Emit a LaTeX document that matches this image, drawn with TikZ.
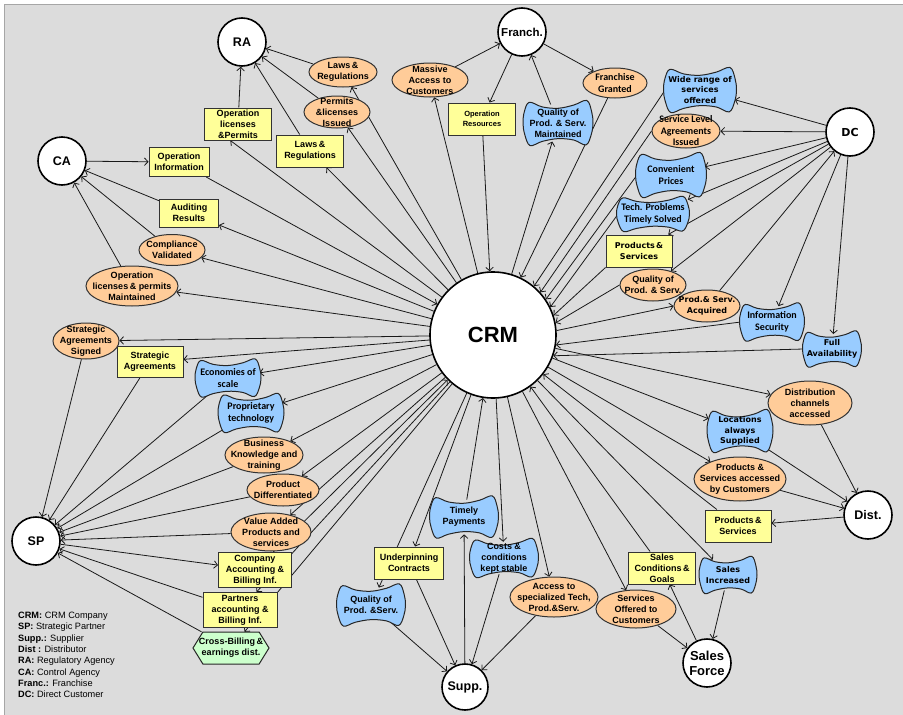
\documentclass[tikz,border=0pt]{standalone}
\usepackage{fontspec}
\setmainfont{Liberation Sans}
\newfontfamily\dvfont{DejaVu Sans}
\newfontfamily\clfont{Carlito}
\usetikzlibrary{arrows.meta,shapes.geometric}

\definecolor{bgc}{RGB}{220,220,220}
\definecolor{boxc}{RGB}{255,255,153}
\definecolor{ovalc}{RGB}{255,204,153}
\definecolor{wavec}{RGB}{153,204,255}
\definecolor{hexc}{RGB}{204,255,204}
\definecolor{edgec}{RGB}{25,25,25}

\pgfdeclarelayer{canvas}
\pgfdeclarelayer{wires}
\pgfsetlayers{canvas,wires,main}

\tikzset{
  af/.style={font=\bfseries\fontsize{9}{11}\selectfont},
  afs/.style={font=\bfseries\fontsize{7.5}{10}\selectfont},
  df/.style={font=\dvfont\bfseries\fontsize{8}{10.6}\selectfont},
  cf/.style={font=\clfont\bfseries\fontsize{10}{11.5}\selectfont},
  hub/.style={circle, draw=black, line width=1.6pt, fill=white, inner sep=0pt,
    align=center, font=\bfseries\fontsize{12.5}{14}\selectfont},
  ybox/.style={rectangle, draw=black!80, line width=1pt, fill=boxc, align=center,
    inner sep=1pt, af},
  oval/.style={ellipse, draw=black!80, line width=1pt, fill=ovalc, inner sep=0pt},
  ovaltext/.style={align=center, inner sep=0pt, af},
  waveline/.style={fill=wavec, draw=black!85, line width=1pt},
  hexline/.style={fill=hexc, draw=black!85, line width=1pt},
  wavetext/.style={rectangle, inner sep=0pt, align=center, af},
  link/.style={draw=edgec, line width=0.8pt,
    -{Straight Barb[length=3.5pt,width=7.5pt]}},
}

% pinched pillow shape with an invisible text node on top
% #1 name, #2 x, #3 y, #4 width, #5 height, #6 font style, #7 text
\newcommand\wavenode[7]{%
  \begin{scope}[shift={(#2,#3)},x=#4*0.5pt,y=-#5*0.5pt]
    \path[waveline] plot[smooth cycle, tension=0.6] coordinates {
      (-0.82,-0.9) (-0.45,-0.7) (0,-0.64) (0.45,-0.78) (0.82,-0.98)
      (0.96,-0.5) (1,0) (0.95,0.5)
      (0.8,0.95) (0.45,0.74) (0,0.68) (-0.45,0.8) (-0.8,0.98)
      (-0.95,0.5) (-1,0) (-0.96,-0.5)};
  \end{scope}
  \node[wavetext,#6,minimum width=#4*0.95pt,minimum height=#5*0.8pt] (#1) at (#2,#3) {#7};}

% elongated hexagon, points left and right
% #1 name, #2 x, #3 y, #4 width, #5 height, #6 font style, #7 text
\newcommand\hexnode[7]{%
  \begin{scope}[shift={(#2,#3)},x=#4*0.5pt,y=-#5*0.5pt]
    \path[hexline] (-1,0) -- (-0.74,-1) -- (0.74,-1) -- (1,0) -- (0.74,1) -- (-0.74,1) -- cycle;
  \end{scope}
  \node[wavetext,#6,minimum width=#4pt,minimum height=#5pt] (#1) at (#2,#3) {#7};}

\begin{document}
\begin{tikzpicture}[x=1pt,y=-1pt]
\useasboundingbox (0,0) rectangle (903,715);
\begin{pgfonlayer}{canvas}
  \fill[white] (0,0) rectangle (903,715);
  \fill[bgc] (4,4) rectangle (903,715);
  \draw[black!35, line width=0.8pt] (4,715) -- (4,4) -- (903,4);
\end{pgfonlayer}

% ---------- actors ----------
\node[hub, minimum size=126pt, font=\bfseries\fontsize{22}{24}\selectfont] (crm) at (493,335) {CRM};
\node[hub, minimum size=48pt] (ra) at (242,42) {RA};
\node[hub, minimum size=48pt] (ca) at (62,161) {CA};
\node[hub, minimum size=48pt, font=\bfseries\fontsize{11.5}{13}\selectfont] (fr) at (522,32) {Franch.};
\node[hub, minimum size=48pt, font=\dvfont\bfseries\fontsize{11}{13}\selectfont] (dc) at (850,132) {DC};
\node[hub, minimum size=48pt] (sp) at (36,541) {SP};
\node[hub, minimum size=46pt] (su) at (465,687) {Supp.};
\node[hub, minimum size=48pt] (di) at (868,515) {Dist.};
\node[hub, minimum size=48pt, font=\bfseries\fontsize{13}{15}\selectfont] (sf) at (707,663) {Sales\\Force};

% ---------- rectangles ----------
\node[ybox, minimum width=67pt, minimum height=32pt] (oplic) at (238,124) {Operation\\licenses\\\&Permits};
\node[ybox, minimum width=60pt, minimum height=29pt] (opinfo) at (179,162) {Operation\\Information};
\node[ybox, minimum width=59pt, minimum height=28pt] (audit) at (189,213) {Auditing\\Results};
\node[ybox, minimum width=67pt, minimum height=32pt] (lawsbox) at (310,151) {Laws\,\&\\Regulations};
\node[ybox, afs, minimum width=67pt, minimum height=32pt] (opres) at (482,119) {Operation\\Resources};
\node[ybox, df, minimum width=66pt, minimum height=32pt] (ps1) at (639,251) {Products\,\&\\Services};
\node[ybox, minimum width=66pt, minimum height=32pt] (ps2) at (738,526) {Products\,\&\\Services};
\node[ybox, minimum width=67pt, minimum height=32pt] (salescond) at (662,568) {Sales\\Conditions\,\&\\Goals};
\node[ybox, minimum width=69pt, minimum height=32pt] (underp) at (409,563) {Underpinning\\Contracts};
\node[ybox, minimum width=66pt, minimum height=31pt] (stratagr) at (150,362) {Strategic\\Agreements};
\node[ybox, minimum width=73pt, minimum height=35pt] (compacc) at (255,570) {Company\\Accounting \&\\Billing Inf.};
\node[ybox, minimum width=74pt, minimum height=35pt] (partacc) at (240,610) {Partners\\accounting \&\\Billing Inf.};

% ---------- ellipses ----------
\node[oval, minimum width=66pt, minimum height=31pt, label={[ovaltext]center:{Compliance\\Validated}}] (compl) at (172,250) {};
\node[oval, minimum width=92pt, minimum height=40pt, label={[ovaltext]center:{Operation\\licenses\,\& permits\\Maintained}}] (oplicm) at (132,286) {};
\node[oval, minimum width=68pt, minimum height=30pt, label={[ovaltext]center:{Laws\,\&\\Regulations}}] (lawsov) at (343,72) {};
\node[oval, minimum width=66pt, minimum height=32pt, label={[ovaltext]center:{Permits\\\&licenses\\Issued}}] (permits) at (337,112) {};
\node[oval, minimum width=76pt, minimum height=34pt, label={[ovaltext]center:{Massive\\Access to\\Customers}}] (massive) at (430,80) {};
\node[oval, minimum width=64pt, minimum height=30pt, label={[ovaltext,cf]center:{Franchise\\Granted}}] (frgranted) at (615,83) {};
\node[oval, minimum width=68pt, minimum height=34pt, label={[ovaltext,cf]center:{Service Level\\Agreements\\Issued}}] (sla) at (686,131) {};
\node[oval, minimum width=66pt, minimum height=32pt, label={[ovaltext]center:{Quality of\\Prod. \& Serv.}}] (qualps) at (653,285) {};
\node[oval, minimum width=66pt, minimum height=32pt, label={[ovaltext,df]center:{Prod.\& Serv.\\Acquired}}] (acquired) at (707,306) {};
\node[oval, minimum width=84pt, minimum height=44pt, label={[ovaltext]center:{Distribution\\channels\\accessed}}] (distch) at (810,403) {};
\node[oval, minimum width=92pt, minimum height=44pt, label={[ovaltext]center:{Products \&\\Services accessed\\by Customers}}] (psacc) at (740,479) {};
\node[oval, minimum width=80pt, minimum height=38pt, label={[ovaltext]center:{Services\\Offered to\\Customers}}] (servoff) at (636,609) {};
\node[oval, minimum width=88pt, minimum height=40pt, label={[ovaltext]center:{Access to\\specialized Tech,\\Prod.\&Serv.}}] (access) at (554,597) {};
\node[oval, minimum width=66pt, minimum height=36pt, label={[ovaltext]center:{Strategic\\Agreements\\Signed}}] (stratsig) at (86,341) {};
\node[oval, minimum width=78pt, minimum height=36pt, label={[ovaltext]center:{Business\\Knowledge and\\training}}] (bizknow) at (264,455) {};
\node[oval, minimum width=72pt, minimum height=32pt, label={[ovaltext]center:{Product\\Differentiated}}] (proddiff) at (283,490) {};
\node[oval, minimum width=80pt, minimum height=38pt, label={[ovaltext]center:{Value Added\\Products and\\services}}] (valadd) at (271,532) {};

% ---------- pillow shapes ----------
\wavenode{qualmaint}{558}{123}{70}{46}{af}{Quality of\\Prod. \& Serv.\\Maintained}
\wavenode{wide}{700}{90}{73}{46}{df}{Wide range of\\services\\offered}
\wavenode{conv}{671}{175}{71}{46}{cf}{Convenient\\Prices}
\wavenode{tech}{653}{214}{73}{36}{cf}{Tech. Problems\\Timely Solved}
\wavenode{infosec}{772}{322}{65}{39}{cf}{Information\\Security}
\wavenode{fullav}{832}{349}{59}{37}{df}{Full\\Availability}
\wavenode{locs}{740}{431}{66}{44}{df}{Locations\\always\\Supplied}
\wavenode{salesinc}{728}{575}{58}{38}{df}{Sales\\Increased}
\wavenode{timely}{464}{517}{69}{43}{af}{Timely\\Payments}
\wavenode{costs}{504}{558}{69}{40}{af}{Costs \&\\conditions\\kept stable}
\wavenode{qualps3}{371}{605}{69}{43}{af}{Quality of\\Prod. \&Serv.}
\wavenode{econ}{228}{378}{66}{39}{cf}{Economies of\\scale}
\wavenode{propr}{251}{413}{66}{40}{cf}{Proprietary\\technology}

\hexnode{crossbill}{231}{648}{76}{32}{af}{Cross-Billing\,\&\\earnings dist.}

% ---------- key ----------
\node[anchor=north west, align=left, inner sep=0pt, font=\fontsize{9.2}{11.3}\selectfont] (legend) at (18,612)
  {\textbf{CRM:} CRM Company\\\textbf{SP:} Strategic Partner\\\textbf{Supp.:} Supplier\\\textbf{Dist :} Distributor\\
   \textbf{RA:} Regulatory Agency\\\textbf{CA:} Control Agency\\\textbf{Franc.:} Franchise\\\textbf{DC:} Direct Customer};

% ---------- value flows ----------
\begin{pgfonlayer}{wires}
% regulatory agency
\draw[link] (oplic) -- (ra);
\draw[link] (crm) -- (oplic.245);
\draw[link] (lawsov.165) -- (ra.-15);
\draw[link] (crm) -- (lawsov);
\draw[link] (permits) -- (ra);
\draw[link] (crm) -- (permits);
\draw[link] (lawsbox) -- (ra);
\draw[link] (crm) -- (lawsbox);
% control agency
\draw[link] (ca) -- (opinfo);
\draw[link] (opinfo) -- (crm);
\draw[link] (audit) -- (ca);
\draw[link] (crm) -- (audit);
\draw[link] (compl) -- (ca);
\draw[link] (crm) -- (compl);
\draw[link] (oplicm) -- (ca);
\draw[link] (crm) -- (oplicm);
% franchise
\draw[link] (massive) -- (fr);
\draw[link] (crm) -- (massive);
\draw[link] (fr) -- (opres);
\draw[link] (opres) -- (crm);
\draw[link] (crm) -- (qualmaint);
\draw[link] (qualmaint) -- (fr);
\draw[link] (fr) -- (frgranted);
\draw[link] (frgranted) -- (crm);
% direct customer
\draw[link] (dc) -- (wide);
\draw[link] (wide.west) -- (crm.50);
\draw[link] (dc) -- (sla);
\draw[link] (sla.west) -- (crm.42);
\draw[link] (dc) -- (conv);
\draw[link] (conv.west) -- (crm.34);
\draw[link] (dc) -- (tech);
\draw[link] (tech.west) -- (crm.26);
\draw[link] (dc) -- (ps1);
\draw[link] (ps1.south west) -- (crm.18);
\draw[link] (dc) -- (qualps);
\draw[link] (qualps.west) -- (crm.11);
\draw[link] (crm.4) -- (acquired.west);
\draw[link] (acquired) -- (dc);
\draw[link] (dc) -- (infosec);
\draw[link] (infosec.west) -- (crm.-9);
\draw[link] (dc) -- (fullav);
\draw[link] (fullav.west) -- (crm.-19);
% distributor
\draw[link] (crm) -- (distch);
\draw[link] (distch) -- (di);
\draw[link] (crm) -- (locs);
\draw[link] (locs) -- (di);
\draw[link] (crm) -- (psacc);
\draw[link] (psacc) -- (di);
\draw[link] (di) -- (ps2);
\draw[link] (ps2) -- (crm);
% sales force
\draw[link] (crm) -- (salesinc);
\draw[link] (salesinc) -- (sf);
\draw[link] (sf) -- (salescond);
\draw[link] (salescond) -- (crm);
\draw[link] (crm) -- (servoff);
\draw[link] (servoff) -- (sf);
% supplier
\draw[link] (crm) -- (access);
\draw[link] (access) -- (su);
\draw[link] (crm) -- (costs);
\draw[link] (costs) -- (su);
\draw[link] (su) -- (timely);
\draw[link] (timely) -- (crm);
\draw[link] (crm) -- (underp);
\draw[link] (underp) -- (su);
\draw[link] (crm) -- (qualps3);
\draw[link] (qualps3) -- (su);
% strategic partner
\draw[link] (crm) -- (stratsig);
\draw[link] (stratsig) -- (sp);
\draw[link] (crm) -- (stratagr);
\draw[link] (stratagr) -- (sp);
\draw[link] (crm) -- (econ);
\draw[link] (econ) -- (sp);
\draw[link] (crm) -- (propr);
\draw[link] (propr) -- (sp);
\draw[link] (crm) -- (bizknow);
\draw[link] (bizknow) -- (sp);
\draw[link] (crm) -- (proddiff);
\draw[link] (proddiff) -- (sp);
\draw[link] (crm) -- (valadd);
\draw[link] (valadd) -- (sp);
\draw[link] (sp) -- (compacc);
\draw[link] (compacc) -- (crm);
\draw[link] (crm) -- (partacc);
\draw[link] (partacc) -- (sp);
\draw[link] (crm) -- (crossbill);
\draw[link] (crossbill) -- (sp);
\end{pgfonlayer}
\end{tikzpicture}
\end{document}
